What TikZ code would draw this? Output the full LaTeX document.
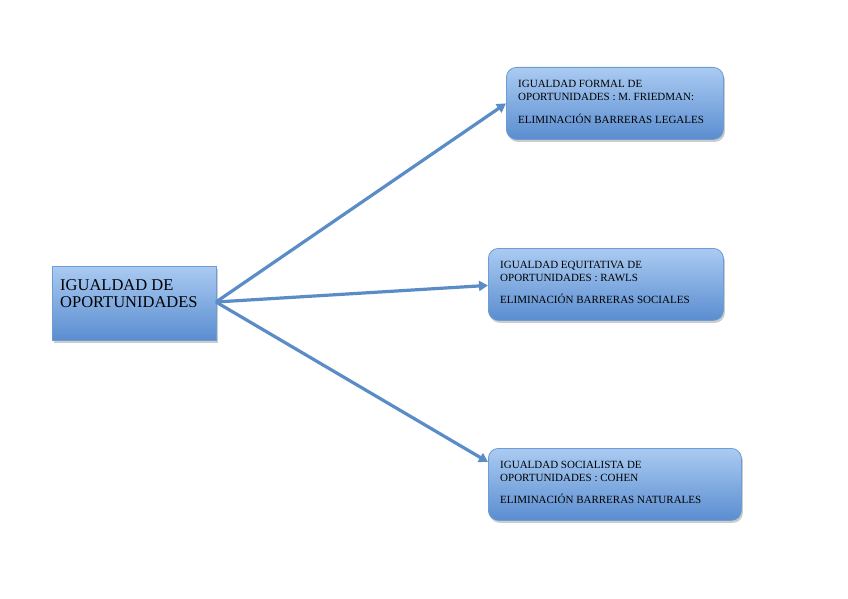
\documentclass[tikz,border=0pt]{standalone}
\usepackage{fontspec}
\setmainfont{Liberation Serif}
\usetikzlibrary{shadows,arrows.meta,calc}
\definecolor{boxtop}{HTML}{AACBF2}
\definecolor{boxbot}{HTML}{5A8DD0}
\definecolor{boxline}{HTML}{6E9CD3}
\definecolor{arrowc}{HTML}{5A8DC8}
\tikzset{
  mainbox/.style={draw=boxline, line width=0.8pt, top color=boxtop, bottom color=boxbot,
    drop shadow={shadow xshift=1.5pt, shadow yshift=-2.5pt, opacity=0.4}},
  roundbox/.style={mainbox, rounded corners=10pt},
  conn/.style={draw=arrowc, line width=3.2pt, -{Triangle[length=9pt,width=10pt]}},
  smalltext/.style={anchor=north west, inner sep=0pt, align=left, font=\fontsize{11}{13}\selectfont},
  bigtext/.style={anchor=north west, inner sep=0pt, align=left, font=\fontsize{16.5}{17}\selectfont}
}
\begin{document}
\begin{tikzpicture}[x=1pt,y=-1pt]
\useasboundingbox (0,0) rectangle (848,599);
\fill[white] (0,0) rectangle (848,599);
% boxes
\path[mainbox] (52,266) rectangle (216,340);
\coordinate (mainE) at (216,302);
\node[roundbox, minimum width=217pt, minimum height=72pt, anchor=north west] (b1) at (506,67) {};
\node[roundbox, minimum width=235pt, minimum height=72pt, anchor=north west] (b2) at (488,248) {};
\node[roundbox, minimum width=253pt, minimum height=72pt, anchor=north west] (b3) at (488,448) {};
% texts
\node[bigtext] (t0) at (60,279) {IGUALDAD DE\\OPORTUNIDADES};
\node[smalltext] (t1) at (518,80) {IGUALDAD FORMAL DE\\OPORTUNIDADES : M. FRIEDMAN:\\[10pt]ELIMINACIÓN BARRERAS LEGALES};
\node[smalltext] (t2) at (500,261) {IGUALDAD EQUITATIVA DE\\OPORTUNIDADES : RAWLS\\[9pt]ELIMINACIÓN BARRERAS SOCIALES};
\node[smalltext] (t3) at (500,461) {IGUALDAD SOCIALISTA DE\\OPORTUNIDADES : COHEN\\[9pt]ELIMINACIÓN BARRERAS NATURALES};
% connectors
\draw[conn] (mainE) -- ($(b1.west)+(0,0)$);
\draw[conn] (mainE) -- ($(b2.west)+(0,1)$);
\draw[conn] (mainE) -- ($(b3.north west)+(0,14)$);
\end{tikzpicture}
\end{document}
